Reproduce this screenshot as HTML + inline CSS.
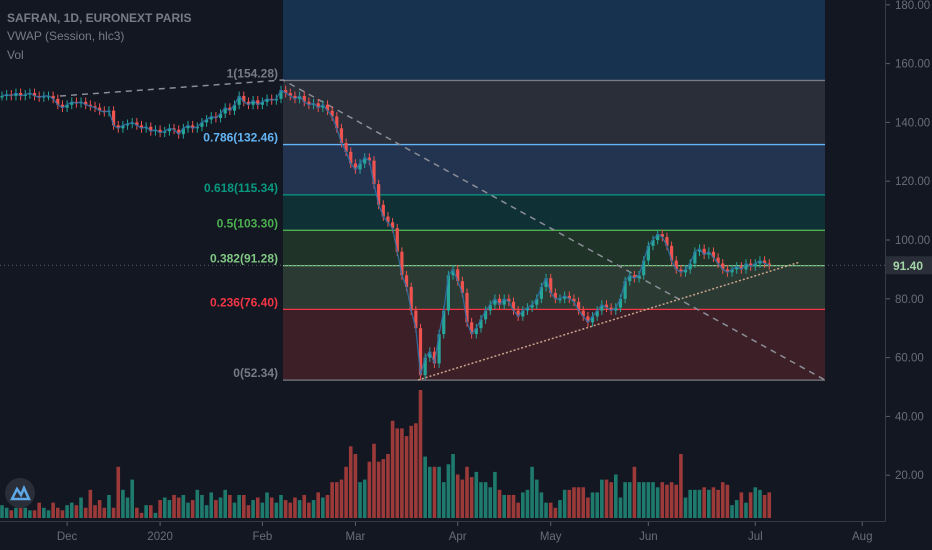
<!DOCTYPE html>
<html><head><meta charset="utf-8"><style>
html,body{margin:0;padding:0;background:#131722;}
svg{display:block;font-family:"Liberation Sans",sans-serif;}
</style></head><body>
<svg id="chart" width="932" height="550" viewBox="0 0 932 550">
<rect width="932" height="550" fill="#131722"/>
<g id="fib"></g>
<g id="vol"></g>
<g id="lines"></g>
<g id="candles"></g>
<g id="axes"></g>
<g fill="#787b86">
<text x="7" y="22" font-size="12" font-weight="bold">SAFRAN, 1D, EURONEXT PARIS</text>
<text x="7" y="40" font-size="12">VWAP (Session, hlc3)</text>
<text x="7" y="59" font-size="12">Vol</text>
</g>
<g><circle cx="20" cy="493" r="15" fill="#2a2e39"/><path d="M12 499 L17 489 L21 495 L24 488 L29 499 Z" fill="none" stroke="#5fa8e8" stroke-width="2.5"/></g>
</svg>
<script>
const closes=[149,149.5,149,150,149,149.5,150,149,148.5,149,
149,148,146,145,146,147,146.5,147,146,145.5,
145,144,143.5,144,139,138,139,139.5,140,139,
138,138.5,137,137.5,136.5,137,138,137.5,136,138,
139,138,138.5,140,141,142,141.5,143,145,144,
146,149,147,146,147.5,146,147,148,147.5,148,
151,150,149,148,149,147,146,146.5,145,146,
144,142,138,133,130,126,124,126,128,127,
119,112,108,106,104,96,88,84,76,70,
54,60,62,58,68,76,88,90,86,82,
72,68,70,73,76,78,80,78,80,79,
76,74,76,77,78,80,84,87,82,80,
80,81,80,79,76,74,72,74,76,78,
77,76,77,80,86,88,87,88,93,98,
100,102,101,98,93,90,89,90,92,96,
97,95,96,94,92,90,89,90,91,90,
92,91,92,93,92,91.4];
const volumes=[5,4,3,4,5,4,3,3,6,4,
3,6,4,3,5,6,5,8,4,11,
5,7,4,9,4,20,11,8,15,4,
2,5,5,2,7,8,7,9,8,9,
6,7,11,9,5,10,7,8,11,9,
6,9,9,5,7,8,6,10,8,6,
9,7,6,8,7,9,6,7,10,8,
9,14,14,15,20,28,25,14,15,22,
29,22,23,25,38,35,35,32,36,37,
50,24,20,20,20,14,21,25,17,15,
20,16,18,14,14,12,18,11,9,9,
9,6,10,11,20,15,10,6,6,4,
7,11,11,12,12,12,8,10,10,15,
15,14,17,8,14,14,20,14,14,14,
14,12,14,13,14,13,25,8,11,11,
11,12,11,12,11,14,13,5,7,10,
6,10,12,11,9,10];
const priceTicks=[180,160,140,120,100,80,60,40,20];
const timeLabels=["Dec","2020","Feb","Mar","Apr","May","Jun","Jul","Aug"];
const timeBars=[14,34,56,76,98,118,139,162,185];
const fibRatios=["1","0.786","0.618","0.5","0.382","0.236","0"];
const fibPrices=[154.28,132.46,115.34,103.30,91.28,76.40,52.34];
const lastPrice=91.40;

const NS="http://www.w3.org/2000/svg";
const y=p=>240-(p-100)*2.94;
const x=i=>2+i*4.65;
const vy=v=>518-v*2.56;
function mk(tag,attrs,parent){const e=document.createElementNS(NS,tag);for(const k in attrs)e.setAttribute(k,attrs[k]);parent.appendChild(e);return e;}

// fib
const fib=document.getElementById('fib');
const fx1=283,fx2=825;
const fills=["#17324f","#2a2e39","#233450","#0f3136","#1f3328","#2b3a33","#3d1f27"];
const lcol=["#787b86","#64b5f6","#089981","#4caf50","#81c784","#f23645","#787b86"];
let prevY=0;
fibPrices.forEach((lv,k)=>{
  const yy=y(lv);
  const r=mk('rect',{x:fx1,y:prevY,width:fx2-fx1,height:yy-prevY,fill:fills[k]},fib);
  
  
  prevY=yy;
});
fibPrices.forEach((lv,k)=>{
  const yy=y(lv);
  const l=mk('line',{x1:fx1,x2:fx2,y1:yy,y2:yy,stroke:lcol[k],'stroke-width':1.3},fib);
  
  
  const t=mk('text',{x:278,y:yy-3,'text-anchor':'end','font-size':12,'font-weight':'bold',fill:lcol[k]},fib);
  t.textContent=fibRatios[k]+'('+lv.toFixed(2)+')';
  
  
});

// volume
const vol=document.getElementById('vol');
closes.forEach((c,i)=>{
  const o=i?closes[i-1]:c;
  const b=mk('rect',{x:x(i)-1.8,y:vy(volumes[i]),width:3.6,height:volumes[i]*2.56,fill:c>=o?'#1f7a6e':'#9c3a3a'},vol);
  
  
});

// lines
const lines=document.getElementById('lines');
let e;
e=mk('polyline',{points:'60,96 283,80 825,380',fill:'none',stroke:'#8a8d96','stroke-width':1.5,'stroke-dasharray':'6 5'},lines);


e=mk('line',{x1:418,y1:380,x2:800,y2:262,stroke:'#c9a38a','stroke-width':1.5,'stroke-dasharray':'2 2'},lines);


e=mk('line',{x1:0,x2:885,y1:y(lastPrice),y2:y(lastPrice),stroke:'#5d606b','stroke-width':1,'stroke-dasharray':'1 3'},lines);



// candles
const cg=document.getElementById('candles');
closes.forEach((c,i)=>{
  const o=i?closes[i-1]:c;
  const col=c>=o?'#26a69a':'#ef5350';
  const hi=Math.max(o,c)+1.5, lo=Math.min(o,c)-1.5;
  const w=mk('line',{x1:x(i),x2:x(i),y1:y(hi),y2:y(lo),stroke:col,'stroke-width':1},cg);
  
  
  const top=y(Math.max(o,c)),h=Math.max(1.5,Math.abs(y(o)-y(c)));
  const b=mk('rect',{x:x(i)-1.6,y:top,width:3.2,height:h,fill:col},cg);
  
  
});
e=mk('polyline',{points:closes.map((c,i)=>x(i)+','+y(c)).join(' '),fill:'none',stroke:'#2f6fa3','stroke-width':1.3,opacity:0.9},cg);



// axes
const ax=document.getElementById('axes');
e=mk('rect',{x:886,y:0,width:46,height:550,fill:'#131722'},ax);


e=mk('line',{x1:885.5,x2:885.5,y1:0,y2:550,stroke:'#363a45'},ax);


e=mk('rect',{x:0,y:521,width:886,height:29,fill:'#131722'},ax);


e=mk('line',{x1:0,x2:886,y1:521.5,y2:521.5,stroke:'#363a45'},ax);


priceTicks.forEach(p=>{
  const yy=y(p);
  const t=mk('line',{x1:886,x2:890,y1:yy,y2:yy,stroke:'#5d606b'},ax);
  
  
  const l=mk('text',{x:895,y:yy+4,'font-size':11.5,fill:'#6a6d78'},ax);
  l.textContent=p.toFixed(2);
  
  
});
timeLabels.forEach((s,k)=>{
  const xx=x(timeBars[k]);
  const t=mk('line',{x1:xx,x2:xx,y1:522,y2:526,stroke:'#5d606b'},ax);
  
  
  const l=mk('text',{x:xx,y:540,'font-size':11.5,fill:'#6a6d78','text-anchor':'middle'},ax);
  l.textContent=s;
  
  
});
e=mk('rect',{x:886,y:y(lastPrice)-9,width:46,height:18,fill:'#2a2e39'},ax);


e=mk('text',{x:893,y:y(lastPrice)+4.5,'font-size':12,'font-weight':'bold',fill:'#a5d6a7'},ax);
e.textContent=lastPrice.toFixed(2);


</script>
</body></html>
